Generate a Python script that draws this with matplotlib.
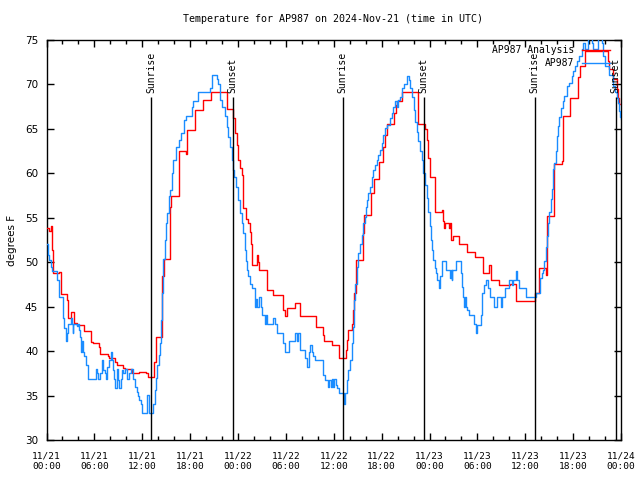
import matplotlib
matplotlib.use('Agg')
import matplotlib.pyplot as plt
import matplotlib.dates as mdates
import pandas as pd

# ---------------- data ----------------
start_time = '2024-11-21 00:00'
end_time = '2024-11-24 00:00'

# AP987 Analysis (red), hours since 11/21 00:00 UTC, degrees F
analysis_hours = [0.0, 0.27, 0.52, 0.65, 0.77, 1.61, 1.77, 2.53, 2.74, 3.03, 3.49, 3.78, 4.74, 5.57,
                  5.79, 6.58, 6.75, 7.66, 7.87, 8.58, 8.79, 9.63, 9.84, 10.75, 11.63, 12.47, 12.76,
                  13.5, 13.68, 14.47, 14.7, 15.5, 15.6, 16.6, 17.44, 17.57, 18.6, 19.65, 20.57,
                  22.66, 23.33, 23.6, 23.83, 24.04, 24.25, 24.46, 24.6, 24.67, 25.0, 25.3, 25.5,
                  25.6, 25.7, 26.34, 26.42, 26.55, 26.67, 27.6, 27.67, 28.35, 29.68, 29.9, 30.1,
                  31.14, 31.77, 33.77, 34.7, 34.77, 35.73, 36.7, 37.53, 37.6, 37.83, 38.25, 38.45,
                  38.53, 38.74, 38.78, 39.7, 39.78, 40.62, 41.08, 41.66, 42.2, 42.4, 42.62, 43.54,
                  43.75, 43.87, 44.6, 46.6, 47.43, 47.64, 47.85, 48.05, 48.68, 49.6, 49.73, 49.81,
                  49.94, 50.44, 50.56, 50.65, 50.98, 51.73, 52.65, 53.7, 54.74, 55.49, 55.66, 56.75,
                  58.08, 58.83, 61.25, 61.76, 62.55, 62.68, 63.65, 64.56, 64.68, 65.65, 66.6, 66.85,
                  67.5, 70.35, 70.5, 71.0, 71.45, 71.6, 71.7, 72.0]
analysis_temps = [53.8, 53.5, 54.1, 51.4, 48.75, 48.9, 46.4, 45.7, 43.7, 44.4, 43.2, 42.95, 42.3, 41.05,
                  40.95, 40.5, 39.65, 39.5, 39.2, 38.8, 38.45, 38.1, 38.0, 37.5, 37.6, 37.5, 37.05,
                  38.8, 41.6, 48.4, 50.4, 56.25, 57.4, 62.5, 62.2, 64.9, 67.1, 68.3, 69.1,
                  67.2, 66.2, 64.5, 63.2, 61.5, 60.6, 59.8, 58.5, 56.1, 54.9, 54.4, 53.4,
                  52.1, 49.7, 50.25, 50.8, 50.0, 49.1, 47.6, 46.9, 46.3, 44.6, 43.9, 44.8,
                  45.4, 43.9, 42.75, 41.8, 41.1, 40.7, 39.2, 40.1, 41.25, 42.4, 43.1, 44.6,
                  46.5, 48.4, 50.25, 53.25, 55.3, 57.75, 59.4, 61.3, 63.0, 64.3, 65.6, 66.75,
                  67.7, 68.1, 69.2, 65.6, 65.0, 63.75, 61.7, 59.6, 55.7, 55.9, 54.6, 53.8,
                  54.4, 53.8, 54.4, 52.5, 52.9, 52.1, 51.2, 50.6, 48.75, 49.7, 48.0, 47.4,
                  47.6, 45.6, 46.5, 49.3, 48.6, 55.2, 61.0, 61.4, 66.45, 68.5, 70.8, 72.1,
                  73.8, 72.6, 71.7, 70.6, 69.5, 68.5, 67.8, 67.8]

# AP987 observations (blue)
obs_hours = [0.0, 0.15, 0.36, 0.56, 0.65, 1.36, 1.57, 2.03, 2.11, 2.23, 2.4, 2.53, 2.65, 3.03, 3.15,
             3.28, 3.36, 3.78, 3.99, 4.12, 4.2, 4.28, 4.45, 4.62, 4.74, 4.91, 5.24, 6.2, 6.37, 6.5,
             6.7, 6.91, 7.12, 7.33, 7.46, 7.62, 7.87, 8.04, 8.17, 8.29, 8.46, 8.54, 8.79, 8.88, 9.0,
             9.13, 9.3, 9.42, 9.63, 9.84, 10.13, 10.38, 10.55, 10.88, 11.09, 11.3, 11.42, 11.63,
             11.8, 11.93, 12.63, 12.85, 13.35, 13.55, 13.75, 13.84, 14.05, 14.26, 14.35, 14.47,
             14.6, 14.8, 14.95, 15.1, 15.3, 15.5, 15.7, 15.9, 16.2, 16.6, 16.9, 17.2, 17.5, 18.2,
             18.4, 19.0, 20.5, 20.8, 21.4, 21.55, 21.8, 22.0, 22.4, 22.6, 22.8, 23.0, 23.2, 23.33,
             23.5, 23.75, 24.04, 24.25, 24.46, 24.67, 24.87, 25.0, 25.17, 25.3, 25.5, 25.7, 26.13,
             26.25, 26.42, 26.67, 26.84, 26.96, 27.38, 27.5, 27.67, 28.4, 28.6, 28.9, 29.68, 29.9,
             30.43, 31.14, 31.35, 31.56, 31.77, 32.4, 32.6, 32.94, 33.0, 33.23, 33.44, 33.65, 34.7,
             34.9, 35.23, 35.44, 35.6, 35.73, 35.94, 36.06, 36.27, 36.44, 36.69, 37.32, 37.4, 37.6,
             37.83, 38.04, 38.25, 38.45, 38.53, 38.66, 38.87, 39.08, 39.29, 39.49, 39.7, 39.91,
             40.04, 40.2, 40.33, 40.54, 40.75, 40.96, 41.16, 41.37, 41.58, 41.8, 42.0, 42.2, 42.42,
             42.63, 43.05, 43.25, 43.46, 43.67, 43.88, 44.09, 44.3, 44.5, 44.8, 45.13, 45.45, 45.6,
             45.8, 46.0, 46.2, 46.4, 46.6, 46.8, 47.0, 47.22, 47.43, 47.64, 47.85, 48.05, 48.18,
             48.35, 48.47, 48.68, 48.8, 48.97, 49.18, 49.3, 49.52, 49.6, 50.02, 50.56, 50.65, 50.77,
             50.86, 51.32, 51.9, 52.03, 52.15, 52.32, 52.45, 52.57, 52.74, 52.99, 53.61, 53.82,
             53.99, 54.41, 54.53, 54.62, 54.83, 55.08, 55.37, 55.58, 56.08, 56.5, 56.92, 57.04,
             57.46, 57.96, 58.3, 58.5, 58.9, 59.0, 59.25, 60.09, 61.34, 61.84, 62.05, 62.17, 62.34,
             62.6, 62.68, 62.8, 63.0, 63.17, 63.3, 63.43, 63.51, 63.64, 63.8, 63.93, 64.14, 64.27,
             64.43, 64.68, 64.85, 65.19, 65.52, 65.81, 66.02, 66.23, 66.44, 66.77, 67.07, 67.28,
             67.48, 67.9, 68.11, 68.32, 68.5, 69.15, 69.36, 69.57, 69.78, 69.99, 70.53, 71.03,
             71.24, 71.45, 71.66, 71.78, 71.87, 72.0]
obs_temps = [52.1, 50.8, 50.25, 49.5, 49.0, 48.0, 46.1, 45.6, 43.7, 42.6, 41.1, 42.0, 43.05, 43.7, 43.1,
             42.0, 43.05, 42.8, 43.05, 42.4, 41.6, 39.9, 41.1, 39.9, 39.4, 38.4, 36.9, 38.0, 37.5, 36.9,
             37.5, 39.0, 37.9, 37.5, 36.9, 38.25, 39.0, 39.9, 39.0, 37.9, 36.9, 35.9, 36.75, 38.0, 36.75,
             35.9, 36.9, 37.9, 37.5, 38.0, 36.9, 37.5, 38.0, 36.9, 36.0, 35.4, 34.9, 34.5,
             34.0, 33.0, 35.06, 33.0, 34.1, 35.6, 37.0, 38.4, 39.6, 40.9, 43.5, 46.5,
             50.4, 52.5, 54.4, 55.5, 57.4, 58.1, 60.0, 61.5, 63.0, 63.75, 64.5, 66.0, 66.4, 67.5,
             68.1, 69.1, 69.6, 71.1, 70.6, 70.1, 68.25, 67.5, 66.4, 65.25, 64.1, 63.0, 61.5, 60.4,
             59.6, 58.5, 57.0, 55.5, 54.4, 53.25, 51.4, 50.1, 49.1, 48.4, 47.6, 47.1, 45.0,
             45.9, 45.0, 46.1, 45.0, 44.1, 43.1, 44.1, 43.1, 43.7, 43.1, 42.0, 40.9, 39.9,
             41.1, 42.0, 41.1, 42.0, 40.1, 39.2, 38.25, 39.9, 40.7, 39.9, 39.5, 39.0, 37.3,
             36.75, 36.0, 36.75, 36.0, 36.9, 36.0, 36.9, 36.2, 35.8, 35.25, 34.1, 35.25, 36.75,
             37.9, 39.0, 40.9, 42.75, 45.75, 47.6, 49.5, 51.0, 52.1, 53.1, 54.4, 55.1,
             56.25, 57.0, 57.75, 58.5, 59.6, 60.4, 60.9, 61.5, 62.1, 62.6, 63.4, 64.3, 65.1,
             65.4, 66.2, 66.75, 67.5, 68.1, 67.5, 68.25, 68.6, 69.6, 70.0, 71.0, 70.5, 69.6,
             68.6, 67.1, 65.8, 64.7, 63.6, 62.5, 61.5, 60.0, 58.7, 57.2, 55.7, 54.1, 52.5,
             51.4, 50.25, 49.3, 48.75, 48.0, 47.1, 48.4, 49.1, 50.1, 49.1, 48.2, 49.1, 48.0,
             49.1, 50.1, 48.75, 47.25, 46.1, 45.0, 46.1, 45.0, 44.6, 44.1, 43.1, 42.0,
             42.9, 44.1, 45.4, 46.5, 47.4, 48.0, 47.1, 46.1, 45.0, 46.1, 45.0, 46.1,
             47.1, 48.0, 47.4, 48.0, 49.0, 48.0, 47.1, 46.1, 46.5, 48.2, 48.75, 49.1, 50.1,
             51.75, 53.0, 54.45, 55.6, 57.1, 58.2, 58.95, 60.45, 61.2, 62.5, 64.2, 65.3, 66.3,
             67.4, 68.1, 68.7, 69.8, 70.2, 70.95, 71.5, 72.1, 72.6, 73.2, 73.95, 74.7,
             73.95, 75.5, 76.0, 74.7, 73.95, 75.5, 76.0, 74.7, 73.2, 72.1, 71.1, 69.8,
             69.1, 68.5, 67.95, 67.0, 66.3, 66.1]

sunrise_times = ['2024-11-21 13:06', '2024-11-22 13:08', '2024-11-23 13:10']
sunset_times = ['2024-11-21 23:21', '2024-11-22 23:16', '2024-11-23 23:19']

title = 'Temperature for AP987 on 2024-Nov-21 (time in UTC)'
ylabel = 'degrees F'
series_labels = ['AP987 Analysis', 'AP987']
y_ticks = [30, 35, 40, 45, 50, 55, 60, 65, 70, 75]

# ---------------- plot ----------------
mono = 'DejaVu Sans Mono'
t0 = pd.Timestamp(start_time)
t1 = pd.Timestamp(end_time)


def to_time(hours):
    return [t0 + pd.Timedelta(hours=h) for h in hours]


fig = plt.figure(figsize=(6.4, 4.8), dpi=100)
ax = fig.add_axes([46.5 / 640, 40 / 480, (621 - 46.5) / 640, 400 / 480])

ax.step(to_time(analysis_hours), analysis_temps, where='post', color='#ff0000', lw=1.0,
        label=series_labels[0], zorder=3)
ax.step(to_time(obs_hours), obs_temps, where='post', color='#1a8cff', lw=1.0,
        label=series_labels[1], zorder=4)

line_top = 68.6
for t in sunrise_times:
    tt = pd.Timestamp(t)
    ax.vlines(tt, 30, line_top, color='black', lw=1.0, zorder=5)
    ax.text(tt, line_top + 0.4, 'Sunrise', rotation=90, ha='center', va='bottom',
            family=mono, fontsize=7, zorder=6)
for t in sunset_times:
    tt = pd.Timestamp(t)
    ax.vlines(tt, 30, line_top, color='black', lw=1.0, zorder=5)
    ax.text(tt, line_top + 0.4, 'Sunset', rotation=90, ha='center', va='bottom',
            family=mono, fontsize=7, zorder=6)

ax.set_xlim(t0, t1)
ax.set_ylim(30, 75)
ax.set_yticks(y_ticks)
ax.xaxis.set_major_locator(mdates.HourLocator(byhour=[0, 6, 12, 18]))
ax.xaxis.set_minor_locator(mdates.HourLocator(byhour=range(0, 24, 2)))
ax.xaxis.set_major_formatter(mdates.DateFormatter('%m/%d\n%H:%M'))

ax.tick_params(axis='both', which='both', direction='in', top=True, right=True, width=1.0)
ax.tick_params(axis='both', which='major', length=5)
ax.tick_params(axis='both', which='minor', length=3)
ax.tick_params(axis='x', which='major', pad=8, labelsize=6.8)
ax.tick_params(axis='y', which='major', pad=6, labelsize=7.5)
for lab in ax.get_xticklabels():
    lab.set_family(mono)
for sp in ax.spines.values():
    sp.set_linewidth(1.0)

ax.set_ylabel(ylabel, fontsize=7.5, labelpad=6)
fig.text(333 / 640, 1 - 19 / 480, title, ha='center', va='center', family=mono, fontsize=7.2)

leg = ax.legend(loc='upper right', bbox_to_anchor=((610 - 46.5) / 574.5, (440 - 45) / 400),
                markerfirst=False, frameon=False, borderpad=0, borderaxespad=0,
                handlelength=2.9, handletextpad=0.8, labelspacing=0.3,
                prop={'family': mono, 'size': 7})
leg.set_zorder(10)

fig.savefig('out.png', dpi=100)
